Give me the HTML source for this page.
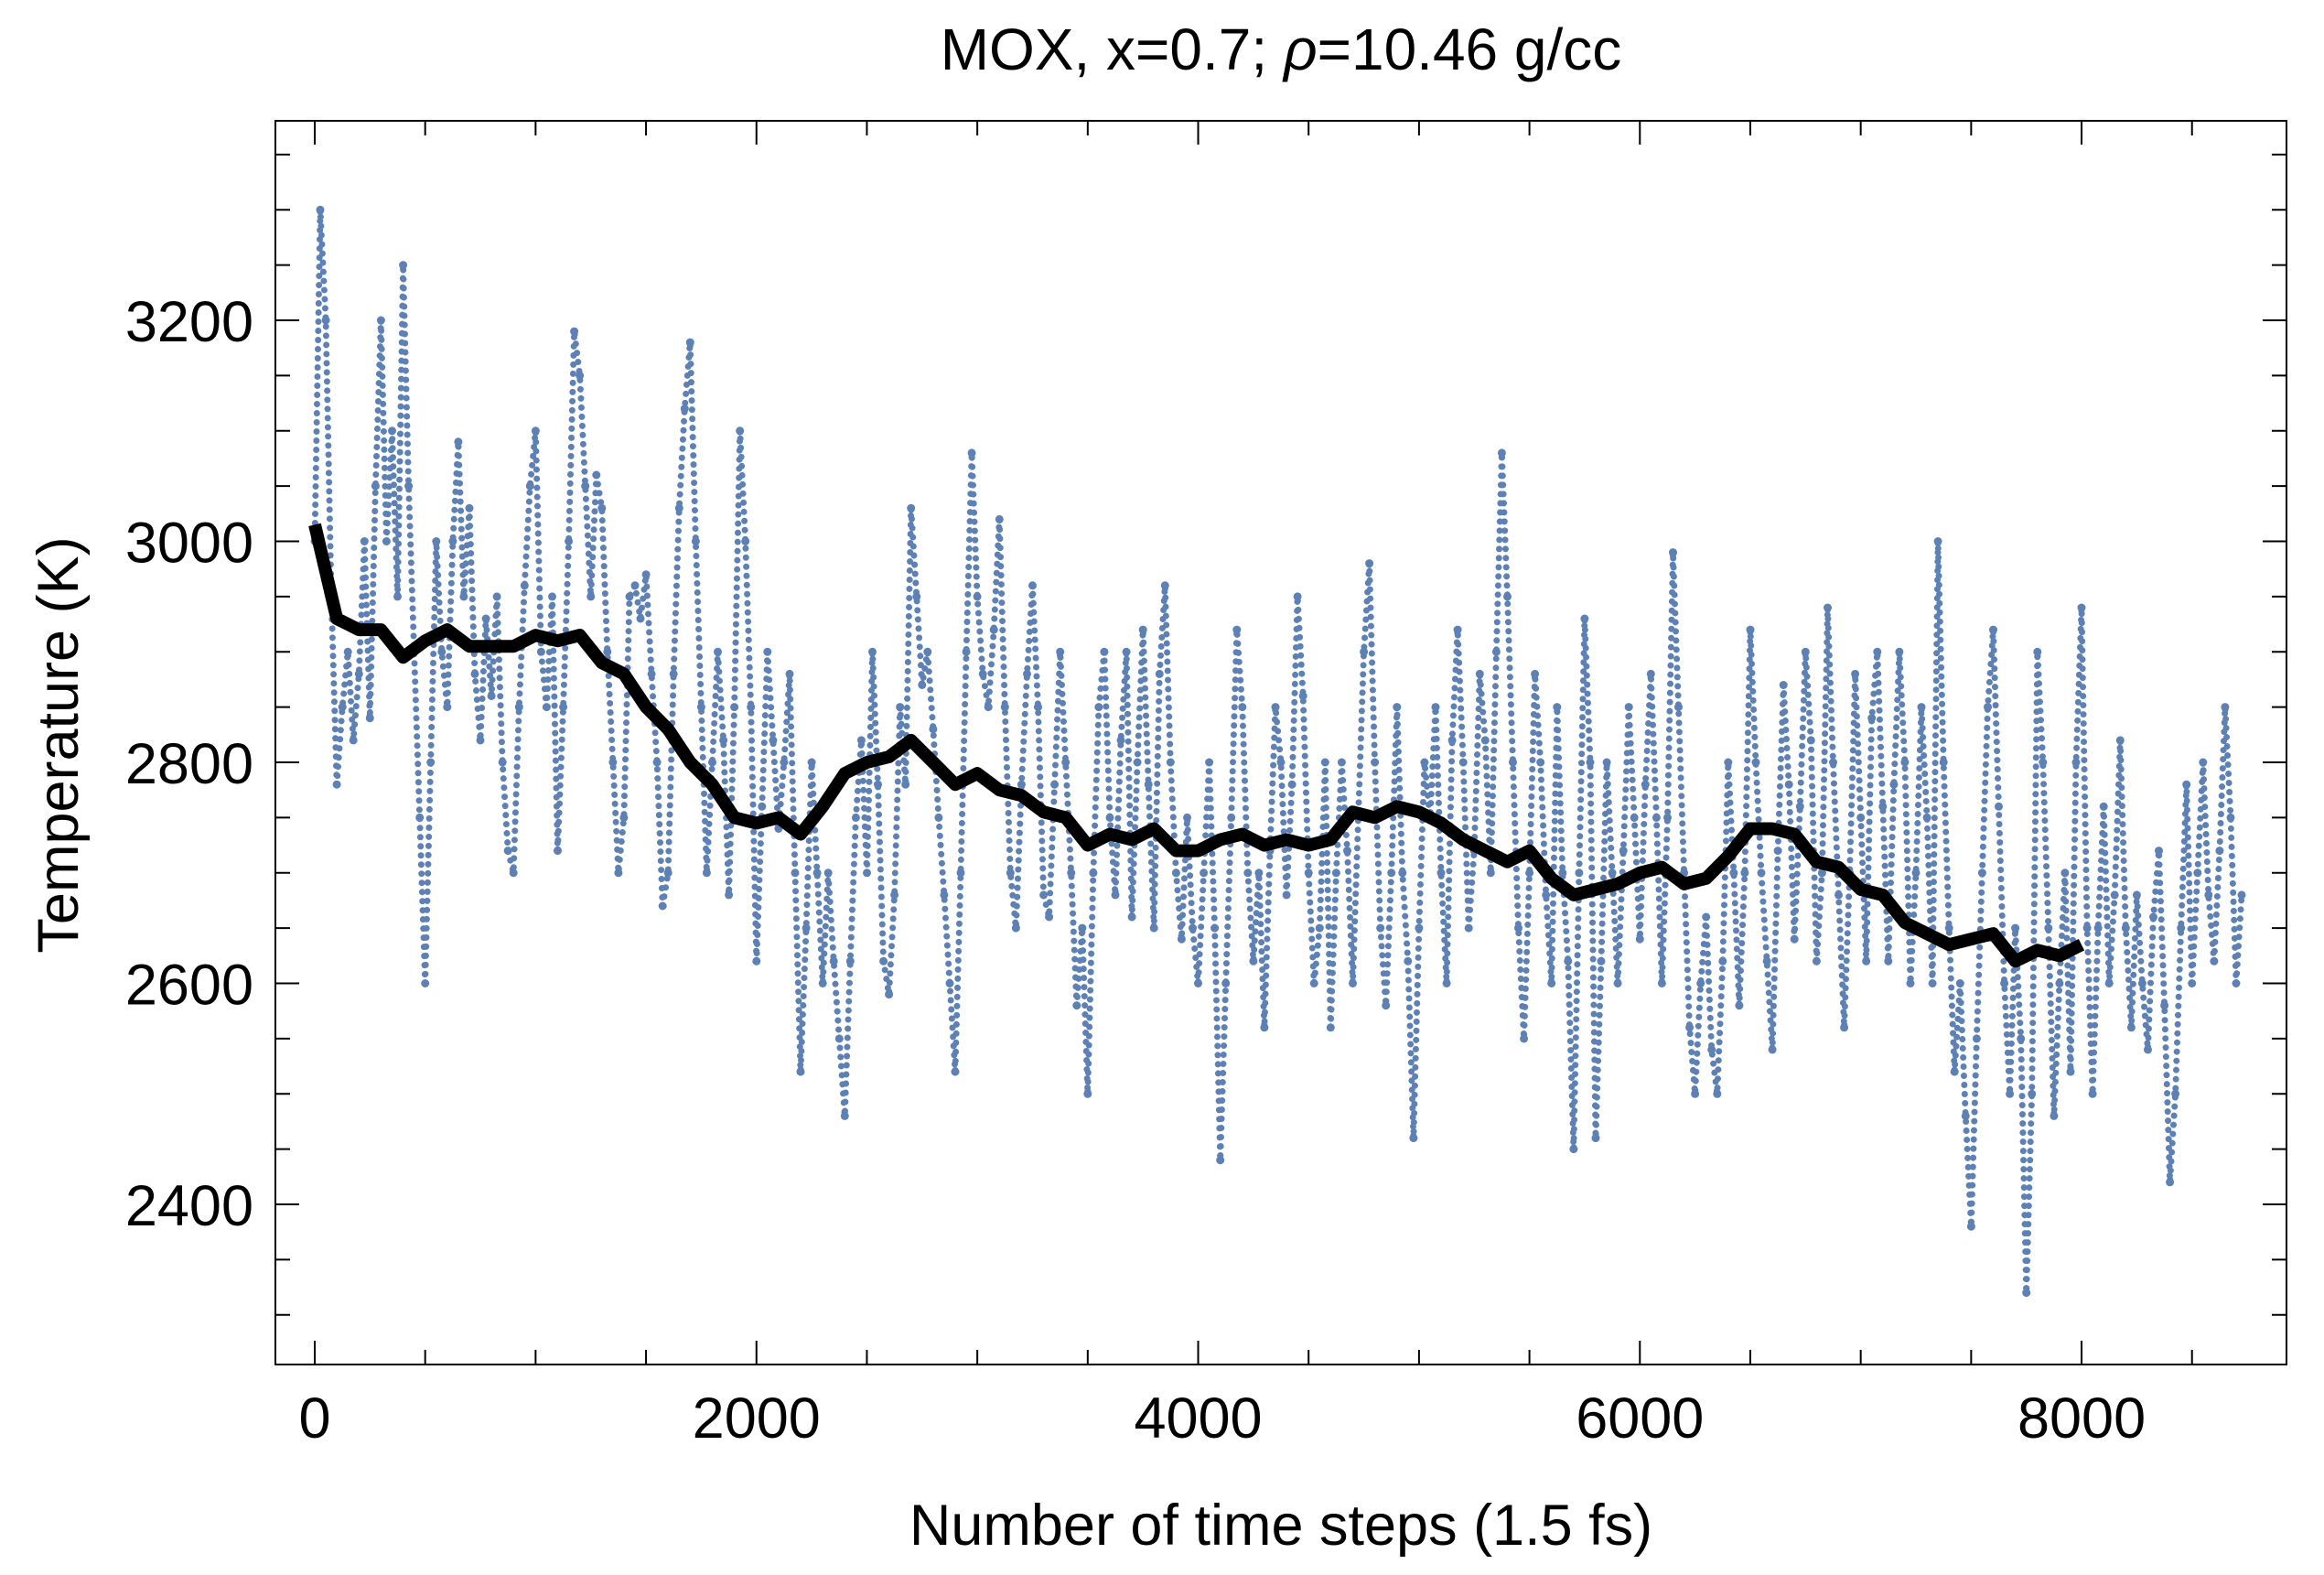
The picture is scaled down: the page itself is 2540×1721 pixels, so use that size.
<!DOCTYPE html>
<html><head><meta charset="utf-8"><style>
html,body{margin:0;padding:0;background:#fff;}
svg{display:block;font-family:"Liberation Sans",sans-serif;}
</style></head><body>
<svg id="chart" width="2540" height="1721" viewBox="0 0 2540 1721" xmlns="http://www.w3.org/2000/svg">
<rect x="0" y="0" width="2540" height="1721" fill="#fff"/>
<text x="1400" y="76" font-size="64" text-anchor="middle">MOX, x=0.7; <tspan font-style="italic">ρ</tspan>=10.46 g/cc</text>
<g id="marks"></g>
<g id="axes"></g>
<text x="1400" y="1688" font-size="63" text-anchor="middle">Number of time steps (1.5 fs)</text>
<text x="0" y="0" font-size="63" text-anchor="middle" transform="translate(85,814) rotate(-90)">Temperature (K)</text>
</svg>
<script>
const scatterStart = 0;
const scatterStep = 25;
const temperatures = [
3000,3300,3200,2950,2780,2850,2900,2820,
2880,3000,2840,3050,3200,3000,3100,2950,
3250,3050,2900,2750,2600,2800,3000,2900,
2850,3000,3090,2950,3030,2880,2820,2930,
2860,2950,2800,2720,2700,2850,2960,3050,
3100,2900,2850,2950,2720,2850,3000,3190,
3150,3050,2950,3060,3030,2900,2800,2700,
2750,2950,2960,2930,2970,2880,2800,2670,
2700,2880,3030,3120,3180,3000,2850,2700,
2800,2900,2820,2680,2850,3100,3000,2850,
2620,2760,2900,2820,2740,2800,2880,2700,
2520,2650,2800,2700,2600,2700,2620,2550,
2480,2620,2750,2820,2700,2900,2780,2620,
2590,2680,2850,2780,3030,2950,2870,2900,
2830,2750,2680,2600,2520,2700,2900,3080,
2950,2880,2850,2920,3020,2850,2700,2650,
2780,2880,2960,2850,2680,2660,2780,2900,
2800,2700,2580,2650,2500,2700,2850,2900,
2750,2680,2820,2900,2660,2800,2920,2780,
2650,2880,2960,2800,2700,2640,2750,2650,
2600,2700,2800,2650,2440,2600,2750,2920,
2850,2700,2620,2700,2560,2720,2850,2800,
2680,2780,2950,2860,2700,2600,2650,2800,
2560,2700,2800,2720,2600,2750,2900,2980,
2800,2650,2580,2700,2850,2700,2620,2460,
2650,2800,2750,2850,2700,2600,2820,2920,
2800,2650,2720,2880,2820,2700,2900,3080,
2950,2800,2650,2550,2700,2880,2800,2680,
2600,2850,2700,2620,2450,2700,2930,2800,
2460,2620,2800,2700,2600,2720,2850,2750,
2640,2780,2880,2750,2600,2750,2990,2850,
2700,2560,2500,2600,2660,2540,2500,2620,
2800,2700,2580,2700,2920,2800,2700,2620,
2540,2720,2870,2780,2640,2760,2900,2820,
2620,2700,2940,2800,2680,2560,2700,2880,
2750,2620,2840,2900,2760,2620,2780,2900,
2800,2600,2700,2850,2750,2600,3000,2800,
2650,2520,2600,2480,2380,2550,2700,2850,
2920,2760,2600,2500,2650,2550,2320,2500,
2900,2800,2650,2480,2600,2700,2520,2800,
2940,2650,2500,2650,2760,2600,2680,2820,
2650,2560,2680,2600,2540,2660,2720,2580,
2420,2500,2650,2780,2600,2700,2800,2680,
2620,2720,2850,2750,2600,2680
];
const avgStep = 100;
const avgValues = [
3015,2930,2920,2920,2895,2910,2920,2905,2905,2905,
2915,2910,2915,2890,2880,2850,2830,2800,2780,2750,
2745,2750,2735,2760,2790,2800,2805,2820,2800,2780,
2790,2775,2770,2755,2750,2725,2735,2730,2740,2720,
2720,2730,2735,2725,2730,2725,2730,2755,2750,2760,
2755,2745,2730,2720,2710,2720,2695,2680,2685,2690,
2700,2705,2690,2695,2715,2740,2740,2735,2710,2705,
2685,2680,2655,2645,2635,2640,2645,2620,2630,2625,2635
];
const xTickValues = [0,2000,4000,6000,8000];
const xTickLabels = ["0","2000","4000","6000","8000"];
const yTickValues = [2400,2600,2800,3000,3200];
const yTickLabels = ["2400","2600","2800","3000","3200"];

const L=301,R=2499,T=132,B=1491;
const X0PX=344, XPX=0.24138;
const Y3200=350, YPX=1.2075;
function sx(v){return X0PX+v*XPX;}
function sy(v){return Y3200+(3200-v)*YPX;}
const NS="http://www.w3.org/2000/svg";
const marks=document.getElementById('marks');
const axes=document.getElementById('axes');
function mk(tag,attrs,parent){const e=document.createElementNS(NS,tag);for(const k in attrs)e.setAttribute(k,attrs[k]);parent.appendChild(e);return e;}

let d='';
temperatures.forEach((t,i)=>{const x=sx(scatterStart+i*scatterStep),y=sy(t);d+=(i?'L':'M')+x.toFixed(1)+' '+y.toFixed(1);});
const streak=mk('path',{d:d,fill:'none',stroke:'#5e81b5','stroke-width':7,'stroke-linecap':'round','stroke-dasharray':'0 10'},marks);


temperatures.forEach((t,i)=>{
  const c=mk('circle',{cx:sx(scatterStart+i*scatterStep).toFixed(1),cy:sy(t).toFixed(1),r:4.5,fill:'#5e81b5'},marks);
  
  
});
let d2='';
avgValues.forEach((t,i)=>{d2+=(i?'L':'M')+sx(i*avgStep).toFixed(1)+' '+sy(t).toFixed(1);});
const avg=mk('path',{d:d2,fill:'none',stroke:'#000','stroke-width':14,'stroke-linejoin':'round','stroke-linecap':'butt'},marks);



const fr=mk('rect',{x:L,y:T,width:R-L,height:B-T,fill:'none',stroke:'#000','stroke-width':2},axes);


for(let v=0;v<=8500;v+=500){
  const major=v%2000===0, len=major?26:16, x=sx(v);
  const t1=mk('line',{x1:x,y1:B,x2:x,y2:B-len,stroke:'#000','stroke-width':2},axes);
  
  
  const t2=mk('line',{x1:x,y1:T,x2:x,y2:T+len,stroke:'#000','stroke-width':2},axes);
  
  
}
xTickValues.forEach((v,i)=>{
  const t=mk('text',{x:sx(v),y:1571,'font-size':63,'text-anchor':'middle'},axes);
  t.textContent=xTickLabels[i];
  
  
});
for(let v=2300;v<=3350;v+=50){
  const major=v%200===0, len=major?26:16, y=sy(v);
  const t1=mk('line',{x1:L,y1:y,x2:L+len,y2:y,stroke:'#000','stroke-width':2},axes);
  
  
  const t2=mk('line',{x1:R,y1:y,x2:R-len,y2:y,stroke:'#000','stroke-width':2},axes);
  
  
}
yTickValues.forEach((v,i)=>{
  const t=mk('text',{x:277,y:sy(v)+23,'font-size':63,'text-anchor':'end'},axes);
  t.textContent=yTickLabels[i];
  
  
});
</script>
</body></html>
